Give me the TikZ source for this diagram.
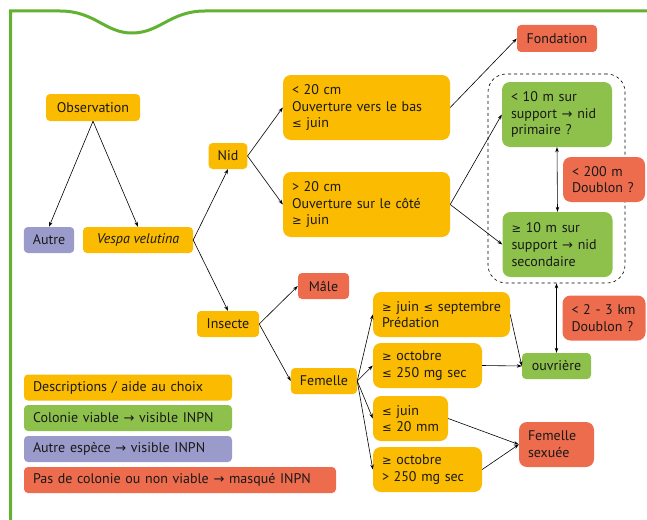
\documentclass[tikz,border=0pt]{standalone}
\usepackage{fontspec}
\setmainfont{PT Sans}
\newfontfamily\symb{DejaVu Sans}
\usepackage{tikz}
\usetikzlibrary{arrows.meta}

\definecolor{jaune}{RGB}{251,187,0}
\definecolor{vertc}{RGB}{141,193,75}
\definecolor{rouge}{RGB}{237,108,77}
\definecolor{mauve}{RGB}{155,155,203}
\definecolor{cadre}{RGB}{98,178,50}

\newcommand{\fl}{{\symb\fontsize{13}{16.7}\selectfont →}}
\newcommand{\infeg}{{\symb\fontsize{11.5}{16.7}\selectfont ≤}}
\newcommand{\supeg}{{\symb\fontsize{11.5}{16.7}\selectfont ≥}}

\tikzset{
  boite/.style={rectangle, rounded corners=4pt, inner xsep=9pt, inner ysep=2pt,
    minimum height=26pt, text=black!90, font=\fontsize{14}{16.7}\selectfont},
  desc/.style={boite, fill=jaune},
  viable/.style={boite, fill=vertc},
  autresp/.style={boite, fill=mauve},
  masque/.style={boite, fill=rouge},
  grande/.style={rounded corners=8pt, align=left},
  fleche/.style={-{Stealth[length=5pt,width=3.5pt]}, line width=0.6pt},
  double/.style={{Stealth[length=5pt,width=3.5pt]}-{Stealth[length=5pt,width=3.5pt]}, line width=0.6pt}
}

\begin{document}
\begin{tikzpicture}[x=1pt, y=-1pt]
  \useasboundingbox (0,0) rectangle (647,519);

  % cadre
  \draw[cadre, line width=3pt] (10.5,522) -- (10.5,11) -- (60,11)
    .. controls (95,11) and (105,33) .. (132,33)
    .. controls (160,33) and (170,11) .. (205,11) -- (650,11);

  \node[desc, minimum width=94pt, minimum height=27pt] (obs) at (93,107.5) {Observation};
  \node[autresp, minimum width=50pt] (autre) at (49,240) {Autre};
  \node[desc, minimum width=110pt] (vespa) at (138,240) {\itshape Vespa velutina};
  \node[desc, minimum width=38pt] (nid) at (228,156) {Nid};
  \node[desc, grande, text width=149pt, minimum height=65pt] (petit) at (366.5,107.5)
    {< 20 cm\\Ouverture vers le bas\\\infeg\ juin};
  \node[desc, grande, text width=149pt, minimum height=65pt] (grand) at (366.5,204.5)
    {> 20 cm\\Ouverture sur le côté\\\supeg\ juin};
  \node[masque, minimum width=80pt, minimum height=27pt] (fond) at (557,38.5) {Fondation};

  \node[draw, dashed, line width=0.6pt, rounded corners=18pt, minimum width=137pt,
    minimum height=209pt] (groupe) at (556.5,178.5) {};
  \node[viable, grande, text width=92pt, minimum height=65pt] (prim) at (557,114.5)
    {<\ 10 m sur\\support \fl\ nid\\primaire ?};
  \node[viable, grande, text width=92pt, minimum height=65pt] (second) at (557.5,244.5)
    {\supeg\ 10 m sur\\support \fl\ nid\\secondaire};
  \node[masque, grande, text width=64pt, minimum height=45pt] (doub1) at (604,179.5)
    {< 200 m\\Doublon ?};

  \node[desc, minimum width=62pt] (insecte) at (228,324) {Insecte};
  \node[masque, minimum width=51pt] (male) at (323.5,286) {Mâle};
  \node[desc, minimum width=66pt] (femelle) at (324,381) {Femelle};
  \node[desc, grande, text width=119pt, minimum height=45pt] (pred) at (441.5,314.5)
    {\mbox{\supeg\ juin \infeg\ septembre}\\Prédation};
  \node[desc, grande, text width=91pt, minimum height=45pt] (oct1) at (427.5,365.5)
    {\supeg\ octobre\\\infeg\ 250 mg sec};
  \node[desc, grande, text width=57pt, minimum height=45pt] (juin) at (410.5,418.5)
    {\infeg\ juin\\\infeg\ 20 mm};
  \node[desc, grande, text width=91pt, minimum height=45pt] (oct2) at (427.5,469.5)
    {\supeg\ octobre\\> 250 mg sec};
  \node[viable, minimum width=69pt] (ouvr) at (556.5,366) {ouvrière};
  \node[masque, grande, text width=65pt, minimum height=45pt] (doub2) at (604,318)
    {< 2 - 3 km\\Doublon ?};
  \node[masque, grande, text width=57pt, minimum height=45pt] (sexuee) at (556.5,444.5)
    {Femelle\\sexuée};

  % legende
  \node[desc, align=left, text width=190pt] (leg1) at (128,387.5) {Descriptions / aide au choix};
  \node[viable, align=left, text width=190pt] (leg2) at (128,418) {Colonie viable \fl\ visible INPN};
  \node[autresp, align=left, text width=190pt] (leg3) at (128,449) {Autre espèce \fl\ visible INPN};
  \node[masque, align=left, text width=294pt] (leg4) at (180,480) {Pas de colonie ou non viable \fl\ masqué INPN};

  \path[fleche] (obs.south) edge (autre.north);
  \path[fleche] (obs.south) edge (vespa.north);
  \path[fleche] (vespa.east) edge (nid.south);
  \path[fleche] (vespa.east) edge (insecte.north);
  \path[fleche] (nid.east) edge (petit.west);
  \path[fleche] (nid.east) edge (grand.west);
  \path[fleche] (petit.east) edge (fond.west);
  \path[fleche] (grand.east) edge (prim.west);
  \path[fleche] (grand.east) edge (second.west);
  \path[double] (prim.south) edge (second.north);
  \path[double] (ouvr.north) edge (groupe.south);
  \path[fleche] (insecte.east) edge (male.west);
  \path[fleche] (insecte.east) edge (femelle.west);
  \path[fleche] (femelle.east) edge (pred.west);
  \path[fleche] (femelle.east) edge (oct1.west);
  \path[fleche] (femelle.east) edge (juin.west);
  \path[fleche] (femelle.east) edge (oct2.west);
  \path[fleche] (pred.east) edge (ouvr.west);
  \path[fleche] (oct1.east) edge (ouvr.west);
  \path[fleche] (juin.east) edge (sexuee.west);
  \path[fleche] (oct2.east) edge (sexuee.west);
\end{tikzpicture}
\end{document}
